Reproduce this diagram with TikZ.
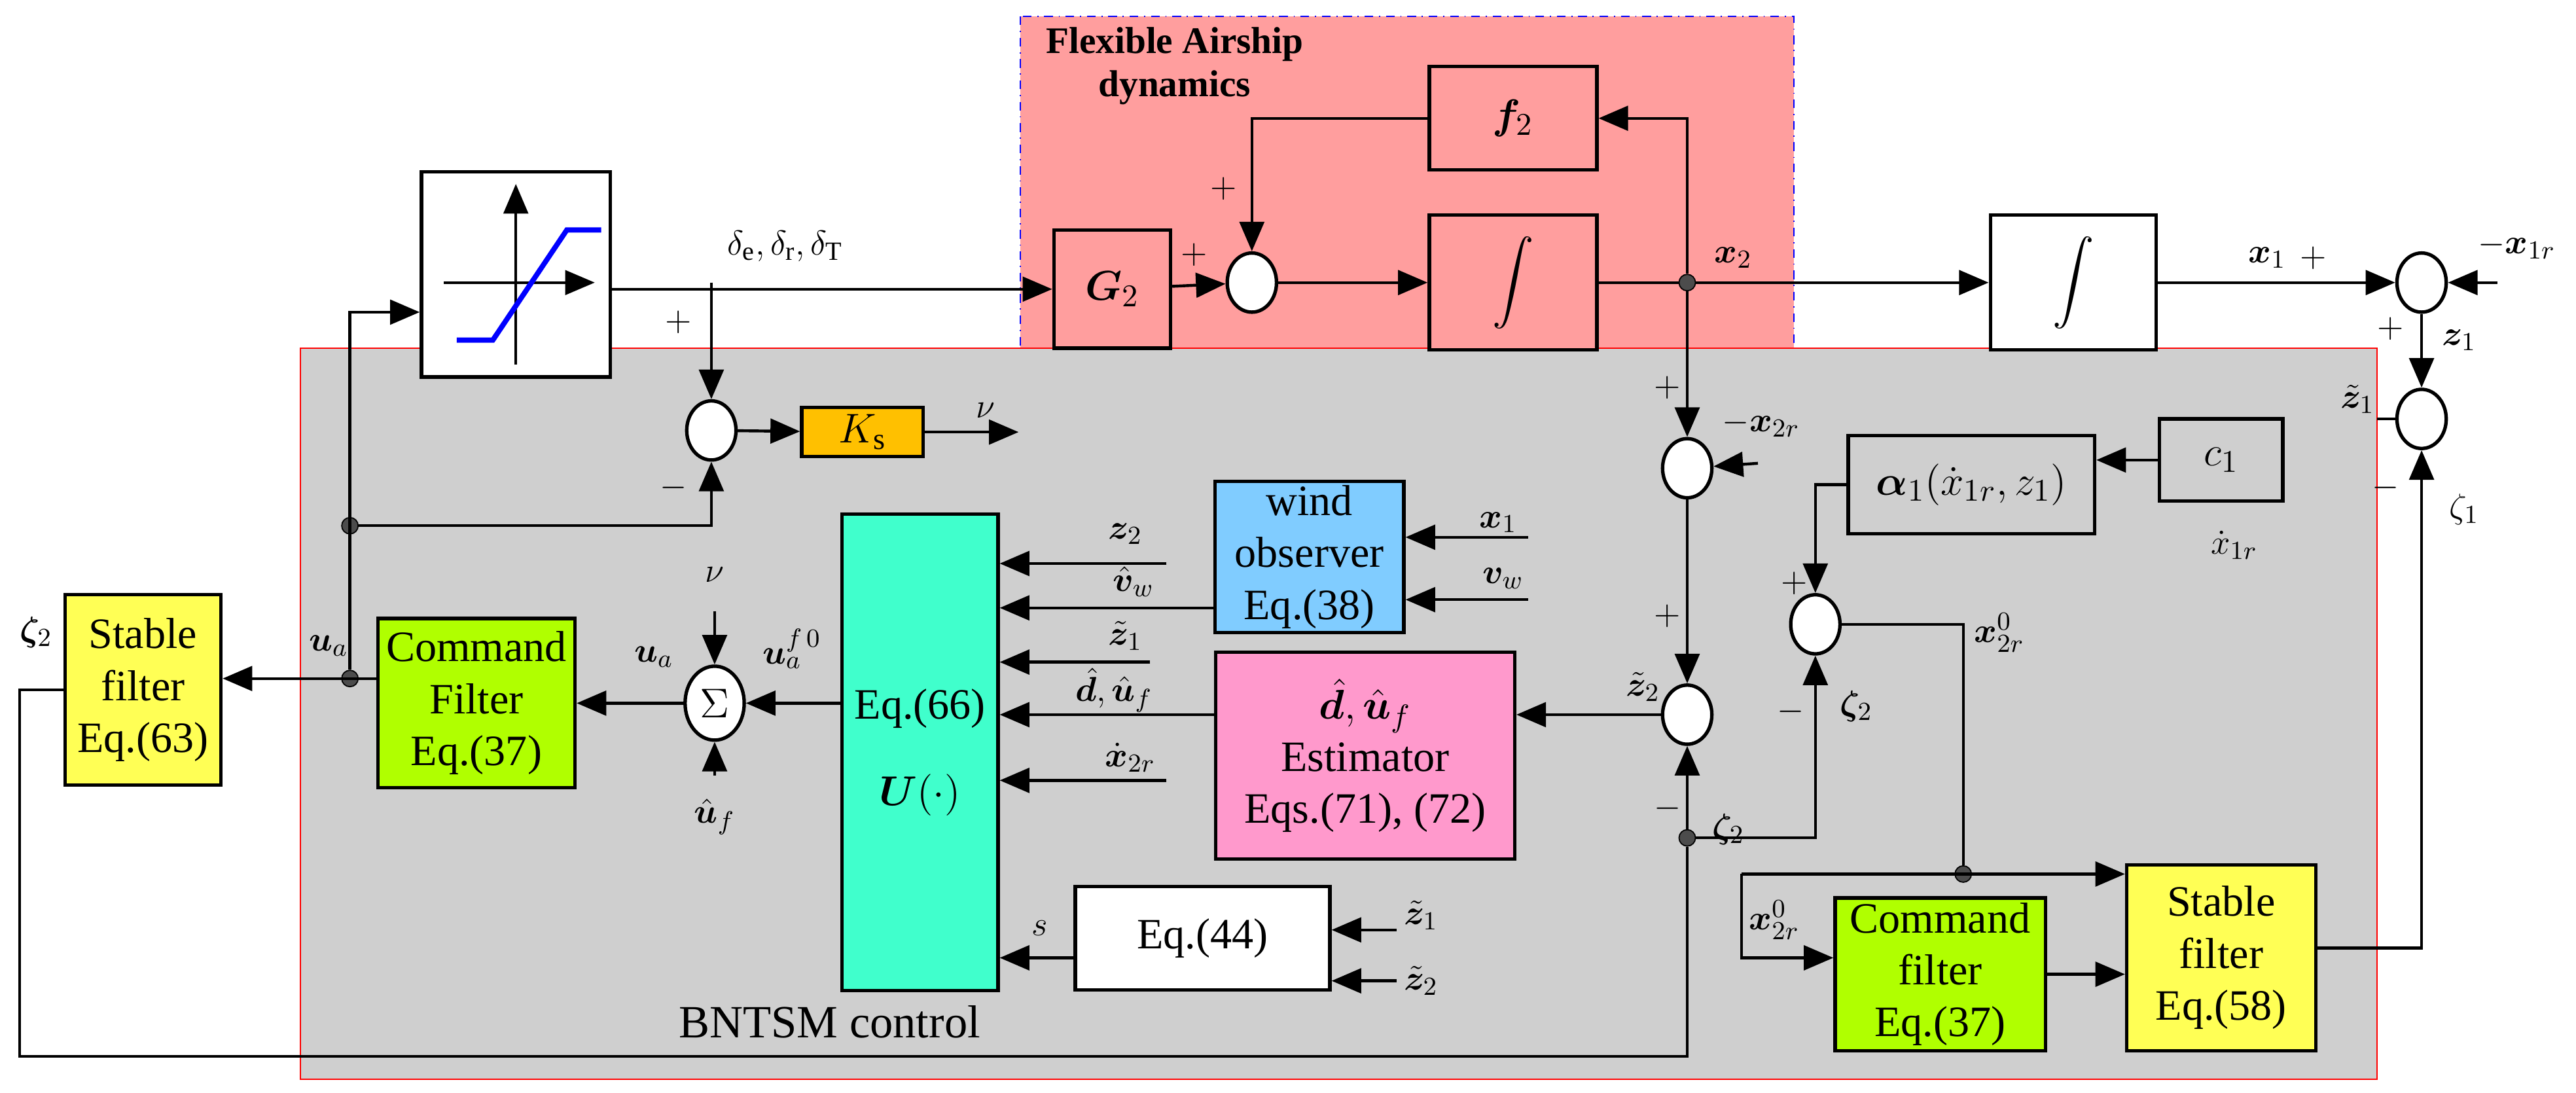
\documentclass[tikz,border=0pt]{standalone}
\usepackage{amsmath,bm}
\usepackage{fontspec}
\setmainfont{Liberation Serif}
\usetikzlibrary{arrows.meta,shapes.geometric,positioning}
\definecolor{airpink}{HTML}{FF9E9E}
\definecolor{bggray}{HTML}{CFCFCF}
\definecolor{ksorange}{HTML}{FFC000}
\definecolor{windblue}{HTML}{80CCFF}
\definecolor{estpink}{HTML}{FF99CC}
\definecolor{ucyan}{HTML}{40FFCC}
\definecolor{cfgreen}{HTML}{B0FF00}
\definecolor{sfyellow}{HTML}{FFFF55}
\begin{document}
\begin{tikzpicture}[x=0.02cm,y=-0.02cm,font=\fontsize{13}{15}\selectfont,
    every node/.style={inner sep=1pt},
    box/.style={draw,line width=1.2pt,align=center,inner sep=1pt,font=\fontsize{15}{18}\selectfont},
    sum/.style={draw,ellipse,fill=white,line width=1.2pt,minimum width=0.6cm,minimum height=0.72cm,inner sep=0pt},
    arr/.style={line width=1pt,-{Triangle[length=0.36cm,width=0.3cm]}},
    ln/.style={line width=1pt},
    dot/.style={circle,fill=black!70,draw,inner sep=0pt,minimum size=0.2cm}]
    \useasboundingbox (0,0) rectangle (1568,665);
    % regions
    \fill[airpink] (621,10) rectangle (1092,212);
    \draw[blue,dash dot] (621,10) rectangle (1092,212);
    \fill[bggray] (183,212) rectangle (1447,657);
    \draw[red] (183,212) rectangle (1447,657);
    \node[font=\bfseries\fontsize{13}{15}\selectfont,align=center] (title) at (715,40) {Flexible Airship\\dynamics};

    % blocks
    \node[box,fill=airpink,minimum width=2.04cm,minimum height=1.26cm] (f2) at (921,72) {$\bm{f}_2$};
    \node[box,fill=airpink,minimum width=1.42cm,minimum height=1.44cm] (G2) at (677,176) {$\bm{G}_2$};
    \node[box,fill=airpink,minimum width=2.04cm,minimum height=1.64cm] (int1) at (921,172) {$\displaystyle\int$};
    \node[box,fill=white,minimum width=2.02cm,minimum height=1.64cm] (int2) at (1262,172) {$\displaystyle\int$};
    \node[box,fill=white,minimum width=2.3cm,minimum height=2.5cm] (sat) at (314,167) {};
    \node[box,fill=ksorange,minimum width=1.48cm,minimum height=0.6cm] (Ks) at (525,263) {$K_{\mathrm{s}}$};
    \node[box,fill=windblue,minimum width=2.3cm,minimum height=1.84cm] (wind) at (797,339) {wind\\observer\\Eq.(38)};
    \node[box,fill=estpink,minimum width=3.64cm,minimum height=2.52cm] (est) at (831,460) {$\bm{\hat d},\bm{\hat u}_f$\\Estimator\\Eqs.(71), (72)};
    \node[box,fill=ucyan,minimum width=1.9cm,minimum height=5.8cm] (U) at (560,458) {Eq.(66)\\[12pt]$\bm{U}(\cdot)$};
    \node[box,fill=white,minimum width=3.1cm,minimum height=1.26cm] (eq44) at (732,571) {Eq.(44)};
    \node[box,fill=cfgreen,minimum width=2.4cm,minimum height=2.06cm] (cf1) at (290,428) {Command\\Filter\\Eq.(37)};
    \node[box,fill=sfyellow,minimum width=1.9cm,minimum height=2.32cm] (sf63) at (87,420) {Stable\\filter\\Eq.(63)};
    \node[box,fill=bggray,minimum width=3cm,minimum height=1.2cm] (alpha) at (1200,295) {$\bm{\alpha}_1(\dot{x}_{1r},z_1)$};
    \node[box,fill=bggray,minimum width=1.5cm,minimum height=1cm] (c1) at (1352,280) {$c_1$};
    \node[box,fill=cfgreen,minimum width=2.56cm,minimum height=1.86cm] (cf2) at (1181,593) {Command\\filter\\Eq.(37)};
    \node[box,fill=sfyellow,minimum width=2.3cm,minimum height=2.26cm] (sf58) at (1352,583) {Stable\\filter\\Eq.(58)};

    % saturation sketch
    \draw[arr,line width=0.8pt] (270,172) -- (362,172);
    \draw[arr,line width=0.8pt] (314,222) -- (314,112);
    \draw[blue,line width=1.8pt] (278,207) -- (300,207) -- (345,140) -- (366,140);

    % summing junctions
    \node[sum] (s1) at (762,172) {};
    \node[sum] (s3) at (433,262) {};
    \node[sum,minimum width=0.72cm,minimum height=0.9cm,font=\fontsize{15}{18}\selectfont] (sig) at (435,428) {$\Sigma$};
    \node[sum] (c2a) at (1027,285) {};
    \node[sum] (c2b) at (1027,435) {};
    \node[sum] (c3) at (1105,380) {};
    \node[sum] (cz1) at (1474,172) {};
    \node[sum] (cz1b) at (1474,255) {};

    % junction points
    \coordinate (jb) at (433,172);
    \node[dot] (x2dot) at (1027,172) {};
    \node[dot] (ua) at (213,413) {};
    \node[dot] (fb) at (213,320) {};
    \node[dot] (zd) at (1027,510) {};
    \node[dot] (jd) at (1195,532) {};
    \coordinate (x1r) at (1520,172);
    \coordinate (x2rin) at (1070,282);

    % forward path
    \draw[arr] (sat.east |- G2) -- (G2);
    \draw[arr] (jb) -- (s3);
    \draw[arr] (G2) -- (s1);
    \draw[arr] (s1) -- (int1);
    \draw[ln] (int1) -- (x2dot);
    \draw[arr] (x2dot) -- (int2);
    \draw[arr] (int2) -- (cz1);
    \draw[arr] (x1r) -- (cz1);
    \draw[arr] (cz1) -- (cz1b);
    \draw[ln] (cz1b) -- (1447,255);
    \draw[arr] (x2dot) -- (x2dot |- f2) -- (f2);
    \draw[arr] (f2) -- (s1 |- f2) -- (s1);
    \draw[arr] (x2dot) -- (c2a);
    \draw[arr] (x2rin) -- (c2a);
    \draw[arr] (c2a) -- (c2b);
    \draw[arr] (c2b) -- (est.east |- c2b);

    % control block inputs
    \draw[arr] (est.west |- 0,435) -- (U.east |- 0,435);
    \draw[arr] (wind.west |- 0,370) -- (U.east |- 0,370);
    \draw[arr] (930,327) -- (wind.east |- 0,327);
    \draw[arr] (930,365) -- (wind.east |- 0,365);
    \draw[arr] (710,343) -- (U.east |- 0,343);
    \draw[arr] (700,403) -- (U.east |- 0,403);
    \draw[arr] (710,475) -- (U.east |- 0,475);
    \draw[arr] (850,566) -- (eq44.east |- 0,566);
    \draw[arr] (850,597) -- (eq44.east |- 0,597);
    \draw[arr] (eq44.west |- 0,583) -- (U.east |- 0,583);
    \draw[arr] (U.west |- sig) -- (sig);
    \draw[arr] (435,372) -- (sig);
    \draw[arr] (435,472) -- (sig);
    \draw[arr] (sig) -- (cf1.east |- sig);
    \draw[arr] (cf1.west |- ua) -- (sf63.east |- ua);
    \draw[arr] (ua) -- (213,190) -- (sat.west |- 0,190);
    \draw[arr] (fb) -- (433,320) -- (s3);
    \draw[arr] (s3) -- (Ks);
    \draw[arr] (Ks) -- (620,263);

    % filter feedback
    \draw[ln] (sf63.west |- 0,420) -- (12,420) -- (12,643) -- (1027,643) -- (zd);
    \draw[arr] (zd) -- (c2b);
    \draw[arr] (zd) -- (1105,510) -- (c3);
    \draw[arr] (alpha.west) -- (1105,295) -- (c3);
    \draw[arr] (c1.west |- 0,280) -- (alpha.east |- 0,280);
    \draw[ln] (c3) -- (1195,380) -- (jd);
    \draw[arr] (1060,532) -- (sf58.west |- 0,532);
    \draw[arr] (1060,532) -- (1060,583) -- (cf2.west |- 0,583);
    \draw[arr] (cf2) -- (sf58.west |- cf2);
    \draw[arr] (sf58.east |- 0,577) -- (1474,577) -- (cz1b);

    % labels
    \node (ldelta) at (478,150) {$\delta_{\mathrm{e}},\delta_{\mathrm{r}},\delta_{\mathrm{T}}$};
    \node (lp1) at (413,196) {$+$};
    \node (lm1) at (410,297) {$-$};
    \node (lnu) at (600,250) {$\nu$};
    \node (lp2) at (727,155) {$+$};
    \node (lp3) at (745,115) {$+$};
    \node (lx2) at (1055,157) {$\bm{x}_2$};
    \node (lx1) at (1380,157) {$\bm{x}_1$};
    \node (lp4) at (1408,157) {$+$};
    \node (lx1r) at (1532,150) {$-\bm{x}_{1r}$};
    \node (lz1) at (1497,207) {$\bm{z}_1$};
    \node (lp5) at (1455,200) {$+$};
    \node (lz1t) at (1435,243) {$\tilde{\bm z}_1$};
    \node (lm2) at (1452,297) {$-$};
    \node (lzeta1) at (1500,310) {$\zeta_1$};
    \node (lp6) at (1015,236) {$+$};
    \node (lx2r) at (1072,258) {$-\bm{x}_{2r}$};
    \node (lp7) at (1015,375) {$+$};
    \node (lz2t) at (1000,418) {$\tilde{\bm z}_2$};
    \node (lm3) at (1015,492) {$-$};
    \node (lzeta2a) at (1052,505) {$\bm\zeta_2$};
    \node (lp8) at (1092,355) {$+$};
    \node (lm4) at (1090,433) {$-$};
    \node (lzeta2b) at (1130,430) {$\bm\zeta_2$};
    \node (lx2r0a) at (1217,385) {$\bm{x}_{2r}^{0}$};
    \node (lx2r0b) at (1080,560) {$\bm{x}_{2r}^{0}$};
    \node (lx1rd) at (1360,332) {$\dot{x}_{1r}$};
    \node (lua1) at (398,400) {$\bm{u}_a$};
    \node (luaf) at (482,395) {$\bm{u}_a^{f\,0}$};
    \node (lnu2) at (435,350) {$\nu$};
    \node (luf) at (435,497) {$\hat{\bm u}_f$};
    \node (lua2) at (200,393) {$\bm{u}_a$};
    \node (lzeta2c) at (22,385) {$\bm\zeta_2$};
    \node (lz2) at (685,325) {$\bm{z}_2$};
    \node (lvw) at (690,354) {$\hat{\bm{v}}_w$};
    \node (lz1u) at (685,387) {$\tilde{\bm z}_1$};
    \node (ldu) at (678,420) {$\hat{\bm d},\hat{\bm u}_f$};
    \node (lx2rd) at (688,461) {$\dot{\bm x}_{2r}$};
    \node (ls) at (633,565) {$s$};
    \node (lz1e) at (865,557) {$\tilde{\bm z}_1$};
    \node (lz2e) at (865,597) {$\tilde{\bm z}_2$};
    \node (lx1w) at (912,318) {$\bm{x}_1$};
    \node (lvww) at (915,352) {$\bm{v}_w$};
    \node[font=\fontsize{16}{18}\selectfont] (lbntsm) at (505,622) {BNTSM control};
\end{tikzpicture}
\end{document}
